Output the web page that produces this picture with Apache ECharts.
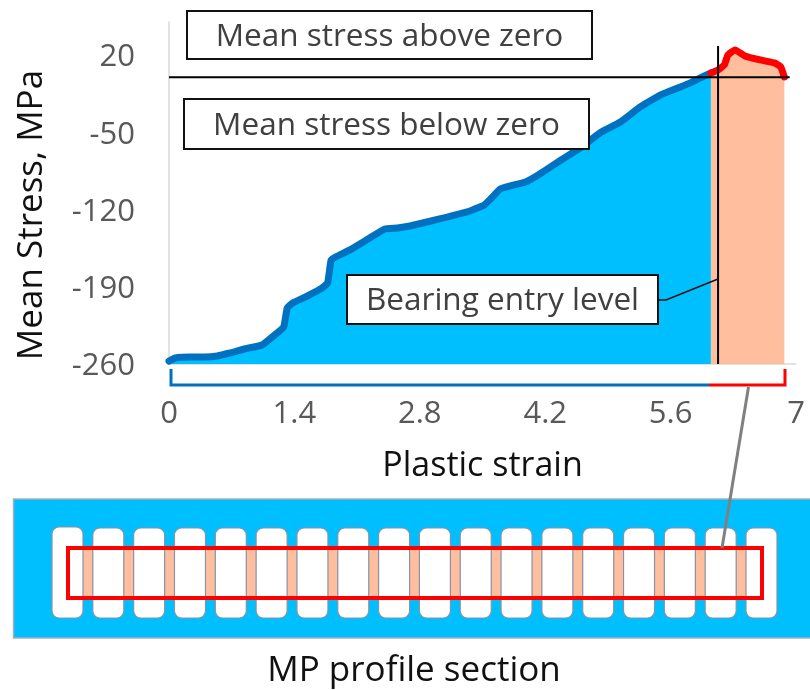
<!DOCTYPE html>
<html>
<head>
<meta charset="utf-8">
<style>html,body{margin:0;padding:0;background:#fff}#c{width:810px;height:690px}</style>
<script src="https://cdn.jsdelivr.net/npm/echarts@6/dist/echarts.min.js"></script>
</head>
<body>
<div id="c"></div>
<script>
const strainBelow = [0,.07,.23,.4,.54,.68,.84,1.04,1.18,1.28,1.32,1.38,1.52,1.69,1.77,1.81,1.88,2.02,2.24,2.41,2.55,2.69,3.02,3.36,3.52,3.6,3.7,3.81,3.98,4.14,4.36,4.59,4.81,5.04,5.26,5.49,5.71,5.82,5.93,6.05];
const stressBelow = [-257.3,-254.6,-253.7,-253.7,-252.7,-250,-246.4,-242.8,-233.7,-226.5,-209.2,-204.7,-199.3,-192,-186.6,-165.7,-162.1,-156.6,-145.8,-137.6,-136.7,-134.9,-128.5,-121.3,-115.8,-109.5,-101.3,-98.6,-95,-87.7,-76,-64.2,-50.6,-40.6,-27,-16.1,-8.9,-5.2,-0.7,3.8];
const strainAbove = [6.05,6.13,6.2,6.24,6.32,6.43,6.6,6.76,6.83,6.87];
const stressAbove = [3.8,6.5,11.1,20.1,24.7,19.2,15.6,12.9,9.3,0.2];
const xTicks = [0,1.4,2.8,4.2,5.6,7];
const yTicks = [-260,-190,-120,-50,20];
const zeroLineStrain = [0,6.93];
const zeroLineStress = [0,0];
const entryStrain = [6.13,6.13];
const entryStress = [-260,28.3];
const slotCount = 18;

const pairs = (a,b)=>a.map((v,i)=>[v,b[i]]);
const FONT = '"Open Sans","Noto Sans",sans-serif';
const chart = echarts.init(document.getElementById('c'),null,{renderer:'canvas'});

function box(x,y,w,h,text,size){
  return {type:'group',z:100,children:[
    {type:'rect',z:100,shape:{x:x,y:y,width:w,height:h},style:{fill:'#fff',stroke:'#111',lineWidth:2}},
    {type:'text',z:101,style:{x:x+w/2,y:y+h/2+2,text:text,font:size+'px '+FONT,fill:'#404040',align:'center',verticalAlign:'middle'}}
  ]};
}
const profile = [];
profile.push({type:'rect',z:10,shape:{x:13.5,y:499,width:800,height:139},style:{fill:'#00BFFF',stroke:'#A6AEBC',lineWidth:1.5}});
const pitch = (746-52)/(slotCount-1);
for(let i=0;i<slotCount-1;i++){
  profile.push({type:'rect',z:11,shape:{x:52+i*pitch+31,y:549,width:pitch-31,height:49},style:{fill:'#FFBF9F'}});
}
for(let i=0;i<slotCount;i++){
  profile.push({type:'rect',z:12,shape:{x:52+i*pitch,y:i===0?527:528,width:31,height:i===0?91:90,r:7},style:{fill:'#fff',stroke:'#8793A6',lineWidth:1.2}});
}
profile.push({type:'rect',z:13,shape:{x:68,y:548,width:694,height:50},style:{fill:'transparent',stroke:'#FF0000',lineWidth:4}});

chart.setOption({
  animation:false,
  backgroundColor:'#fff',
  grid:{left:169,top:22,width:627,height:342,containLabel:false},
  xAxis:{type:'value',min:0,max:7,
    name:'Plastic strain',nameLocation:'middle',nameGap:85,
    nameTextStyle:{fontFamily:FONT,fontSize:34,color:'#111'},
    axisLine:{show:true,onZero:false,lineStyle:{color:'#D9D9D9',width:1.5}},
    axisTick:{show:false},splitLine:{show:false},
    axisLabel:{customValues:xTicks,margin:35,fontFamily:FONT,fontSize:31,color:'#595959',formatter:v=>String(v)}},
  yAxis:{type:'value',min:-260,max:50,
    name:'Mean Stress, MPa',nameLocation:'middle',nameGap:119,
    nameTextStyle:{fontFamily:FONT,fontSize:35,color:'#111',padding:[0,44,0,0]},
    axisLine:{show:true,onZero:false,lineStyle:{color:'#D9D9D9',width:1.5}},
    axisTick:{show:false},splitLine:{show:false},
    axisLabel:{customValues:yTicks,margin:34,fontFamily:FONT,fontSize:31,color:'#595959',padding:[0,0,0,0],lineHeight:36,verticalAlign:'middle',
      formatter:v=>'{a|'+v+'}',rich:{a:{fontFamily:FONT,fontSize:31,color:'#595959',padding:[5,0,0,0]}}}},
  series:[
    {type:'line',name:'Mean stress below zero',data:pairs(strainBelow,stressBelow),showSymbol:false,z:3,
      smooth:0.12,
      lineStyle:{color:'#0070C0',width:7,join:'round',cap:'round'},areaStyle:{color:'#00BFFF',origin:'start',opacity:1}},
    {type:'line',name:'Mean stress above zero',data:pairs(strainAbove,stressAbove),showSymbol:false,z:3,
      smooth:0.12,
      lineStyle:{color:'#FF0000',width:7,join:'round',cap:'round'},areaStyle:{color:'#FFBF9F',origin:'start',opacity:1}},
    {type:'line',name:'Zero',data:pairs(zeroLineStrain,zeroLineStress),showSymbol:false,z:5,silent:true,
      lineStyle:{color:'#000',width:2}},
    {type:'line',name:'Bearing entry level',data:pairs(entryStrain,entryStress),showSymbol:false,z:5,silent:true,
      lineStyle:{color:'#000',width:2}}
  ],
  graphic:{elements:[
    box(187,11,405,48,'Mean stress above zero',31.5),
    box(184,99,405,50,'Mean stress below zero',31.5),
    box(347,275,311,49,'Bearing entry level',31.5),
    {type:'polyline',z:99,shape:{points:[[658,300],[666,300],[718,279]]},style:{fill:'none',stroke:'#111',lineWidth:1.5}},
    {type:'polyline',z:50,shape:{points:[[171,369],[171,385],[709,385]]},style:{fill:'none',stroke:'#0070C0',lineWidth:3}},
    {type:'polyline',z:50,shape:{points:[[709,385],[785,385],[785,369]]},style:{fill:'none',stroke:'#FF0000',lineWidth:3}},
    ...profile,
    {type:'line',z:60,shape:{x1:748.5,y1:387,x2:722,y2:548},style:{stroke:'#808080',lineWidth:3}},
    {type:'text',z:60,style:{x:414,y:671,text:'MP profile section',font:'35px '+FONT,fill:'#111',align:'center',verticalAlign:'middle'}}
  ]}
});
</script>
</body>
</html>
